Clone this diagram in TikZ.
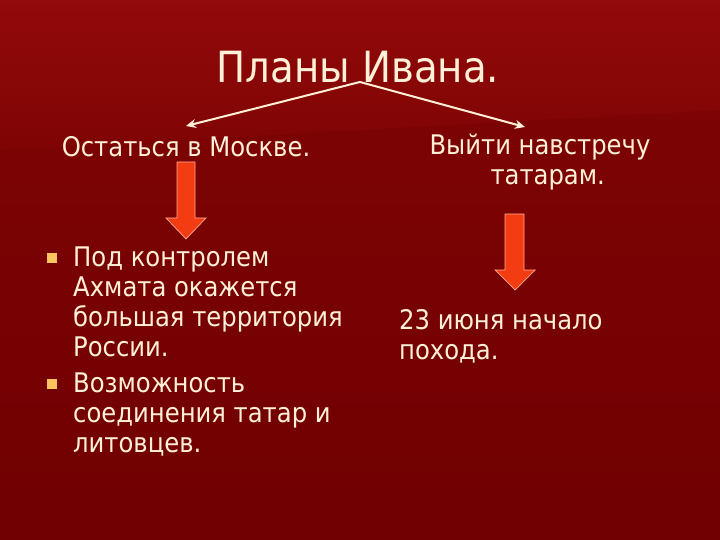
\documentclass[tikz,border=0pt]{standalone}
\usepackage{fontspec}
\setmainfont{DejaVu Sans Condensed}
\usetikzlibrary{arrows.meta}
\definecolor{bgtop}{RGB}{146,10,10}
\definecolor{bgmid}{RGB}{128,4,4}
\definecolor{bgbot}{RGB}{112,0,2}
\definecolor{cream}{RGB}{255,240,215}
\definecolor{arrowred}{RGB}{244,60,18}
\definecolor{arrowedge}{RGB}{255,170,150}
\definecolor{bulletc}{RGB}{250,196,96}
\tikzset{
  txt/.style={text=cream, inner sep=0pt, font=\fontsize{27}{30}\selectfont},
  titletxt/.style={text=cream, inner sep=0pt, font=\fontsize{43}{50}\selectfont},
  fork/.style={draw=cream, line width=2pt, -{Stealth[length=10pt,width=9pt]}},
  downarrow/.style={fill=arrowred, draw=arrowedge, line width=0.7pt, line join=miter},
  bulletbox/.style={fill=bulletc, minimum size=10pt, inner sep=0pt}
}
\begin{document}
\begin{tikzpicture}[x=1pt,y=-1pt]
\useasboundingbox (0,0) rectangle (720,540);
\shade[top color=bgmid, bottom color=bgbot] (0,0) rectangle (720,540);
\shade[top color=bgtop, bottom color=bgmid] (0,0) -- (720,0) -- (720,110) -- (0,150) -- cycle;

\node[titletxt, anchor=base] (title) at (358,83) {Планы Ивана.};

\node[txt, anchor=base] (stay) at (186,157) {Остаться в Москве.};
\node[txt, anchor=base, align=center] (go) at (540,185) {Выйти навстречу\\ \ \ татарам.};

\coordinate (forkpt) at (360,82);
\coordinate (leftend) at (186,126);
\coordinate (rightend) at (525,127);
\draw[fork] (forkpt) -- (leftend);
\draw[fork] (forkpt) -- (rightend);

% left red arrow
\draw[downarrow] (177,162) -- (195,162) -- (195,218) -- (206,218) -- (186,239)
  -- (166,218) -- (177,218) -- cycle;
% right red arrow
\draw[downarrow] (505,214) -- (524,214) -- (524,270) -- (535,270) -- (515,290)
  -- (495,270) -- (505,270) -- cycle;

\node[bulletbox] (b1) at (51.5,257.5) {};
\node[bulletbox] (b2) at (51.5,384) {};
\node[txt, anchor=base west, align=left] (list) at (73,452) {Под контролем\\Ахмата окажется\\большая территория\\России.\\[6pt]Возможность\\соединения татар и\\литовцев.};

\node[txt, anchor=base west, align=left] (date) at (399,359) {23 июня начало\\похода.};
\end{tikzpicture}
\end{document}
